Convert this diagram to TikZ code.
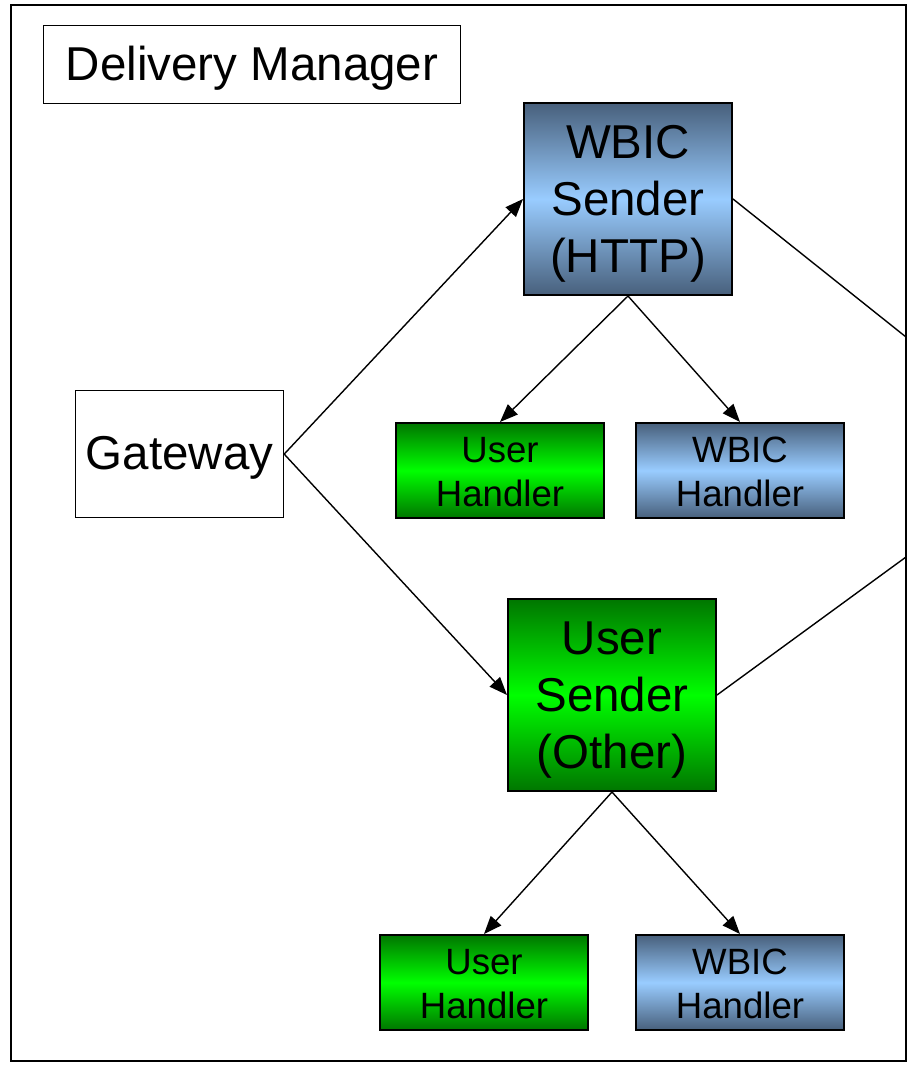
\documentclass[tikz,border=0pt]{standalone}
\usepackage{fontspec}
\setmainfont{Liberation Sans}
\usetikzlibrary{arrows.meta}
\definecolor{bdark}{RGB}{72,96,124}
\definecolor{blight}{RGB}{153,204,255}
\definecolor{gdark}{RGB}{0,118,0}
\definecolor{glight}{RGB}{0,255,0}
\newcommand{\stack}[1]{\begin{tabular}[b]{@{}c@{}}#1\end{tabular}}
\begin{document}
\begin{tikzpicture}[x=1pt,y=-1pt,
  box/.style={draw, inner sep=0pt, anchor=north west, text depth=0pt},
  plainbox/.style={box, line width=1.2pt, fill=white, text height=31.5pt},
  bigfont/.style={font=\fontsize{47.5}{57}\selectfont},
  smallfont/.style={font=\fontsize{36.6}{43.5}\selectfont},
  bluebox/.style={box, line width=2pt, top color=bdark, bottom color=bdark, middle color=blight},
  greenbox/.style={box, line width=2pt, top color=gdark, bottom color=gdark, middle color=glight},
  sender/.style={minimum width=208pt, minimum height=192pt, bigfont, text height=146pt},
  handler/.style={minimum width=208pt, minimum height=95pt, smallfont, text height=71pt},
  arr/.style={line width=1.4pt, -{Triangle[length=18pt,width=14pt]}},
  link/.style={line width=1.4pt}]
\useasboundingbox (0,0) rectangle (907,1065);
\draw[line width=2pt] (11,5) rectangle (906,1061);

\node[plainbox, bigfont, minimum width=417pt, minimum height=78pt] (dm) at (43,25) {Delivery Manager};
\node[plainbox, bigfont, minimum width=208pt, minimum height=127pt] (gw) at (75,390) {Gateway};

\node[bluebox, sender] (ws) at (523,102) {\stack{WBIC\\Sender\\(HTTP)}};
\node[greenbox, sender] (us) at (507,598) {\stack{User\\Sender\\(Other)}};

\node[greenbox, handler] (uh1) at (395,422) {\stack{User\\Handler}};
\node[bluebox, handler] (wh1) at (635,422) {\stack{WBIC\\Handler}};
\node[greenbox, handler] (uh2) at (379,934) {\stack{User\\Handler}};
\node[bluebox, handler] (wh2) at (635,934) {\stack{WBIC\\Handler}};

\coordinate (e1) at (906,337);
\coordinate (e2) at (906,557);

\draw[arr] (gw.east) -- (ws.west);
\draw[arr] (gw.east) -- (us.west);
\draw[arr] (ws.south) -- (uh1.north);
\draw[arr] (ws.south) -- (wh1.north);
\draw[arr] (us.south) -- (uh2.north);
\draw[arr] (us.south) -- (wh2.north);
\draw[link] (ws.east) -- (e1);
\draw[link] (us.east) -- (e2);
\end{tikzpicture}
\end{document}
